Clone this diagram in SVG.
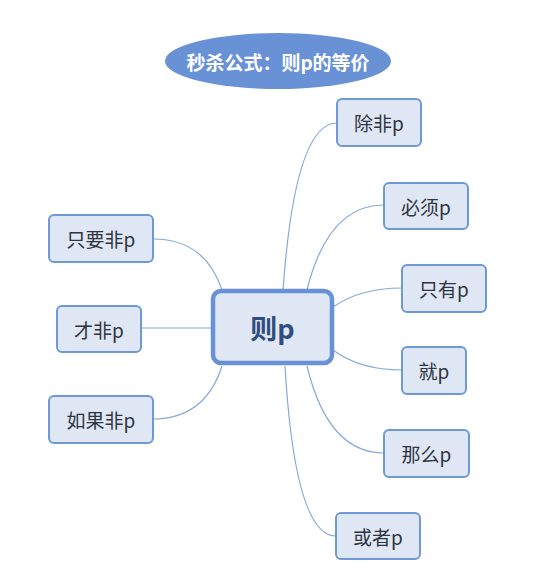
<svg xmlns="http://www.w3.org/2000/svg" width="543" height="580" viewBox="0 0 543 580">
<style>
.node rect{fill:#dfe7f4;stroke:#6e98d8;stroke-width:2}
.node text{font-family:"Noto Sans CJK SC","Noto Sans",sans-serif;font-size:19px;fill:#2e3440;text-anchor:middle;dominant-baseline:central}
.conn path{fill:none;stroke:#86a8dc;stroke-width:1.2}
</style>
<rect width="543" height="580" fill="#ffffff"/>
<g id="title">
<ellipse cx="278" cy="61" rx="113" ry="28" fill="#6891d6"/>
<text x="278" y="61" font-family="'Noto Sans CJK SC','Noto Sans',sans-serif" font-size="19" font-weight="bold" fill="#ffffff" text-anchor="middle" dominant-baseline="central">秒杀公式：则p的等价</text>
</g>
<g class="conn" id="connectors">
<path d="M283,290 Q295,123 337,123"/>
<path d="M307,290 Q328,205 384,205"/>
<path d="M333,307 Q360,288 402,288"/>
<path d="M333,350 Q360,370 402,370"/>
<path d="M307,366 Q328,453 384,453"/>
<path d="M285,366 Q295,536 336,536"/>
<path d="M222,290 Q205,239 153,239"/>
<path d="M212,328 L141,328"/>
<path d="M222,366 Q205,419 153,419"/>
</g>
<g id="center" class="node">
<rect x="213" y="291" width="119" height="72" rx="8" style="stroke-width:4.5;stroke:#6891d6"/>
<text x="272.5" y="327" style="font-size:27px;font-weight:bold;fill:#2f4d7e">则p</text>
</g>
<g id="n1" class="node"><rect x="337" y="99" width="84" height="47" rx="5"/><text x="379" y="122.5">除非p</text></g>
<g id="n2" class="node"><rect x="384" y="183" width="84" height="46" rx="5"/><text x="426" y="206">必须p</text></g>
<g id="n3" class="node"><rect x="402" y="265" width="84" height="47" rx="5"/><text x="444" y="288.5">只有p</text></g>
<g id="n4" class="node"><rect x="402" y="347" width="64" height="47" rx="5"/><text x="434" y="370.5">就p</text></g>
<g id="n5" class="node"><rect x="384" y="430" width="85" height="47" rx="5"/><text x="426.5" y="453.5">那么p</text></g>
<g id="n6" class="node"><rect x="336" y="513" width="84" height="46" rx="5"/><text x="378" y="536">或者p</text></g>
<g id="n7" class="node"><rect x="49" y="215" width="104" height="47" rx="5"/><text x="101" y="238.5">只要非p</text></g>
<g id="n8" class="node"><rect x="57" y="306" width="84" height="46" rx="5"/><text x="99" y="329">才非p</text></g>
<g id="n9" class="node"><rect x="49" y="396" width="104" height="47" rx="5"/><text x="101" y="419.5">如果非p</text></g>
</svg>
